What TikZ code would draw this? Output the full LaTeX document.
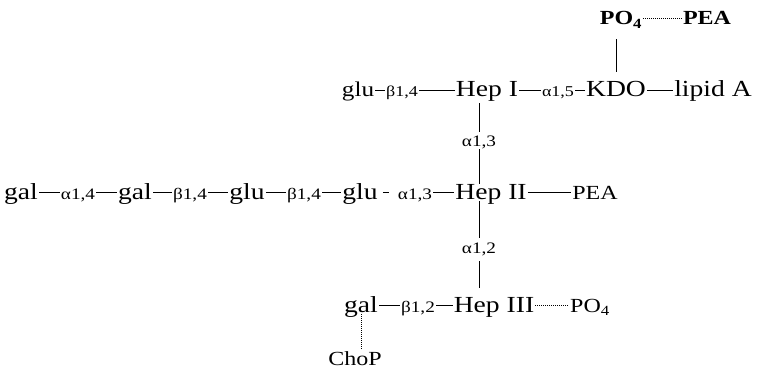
\documentclass[tikz,border=0pt]{standalone}
\usepackage{fontspec}
\setmainfont{Liberation Serif}[FakeStretch=1.2]
\usepackage{tikz}
\usetikzlibrary{calc}

\tikzset{
  sugar/.style={font=\fontsize{23}{26}\selectfont,inner sep=1pt,
                text height=14pt,text depth=1pt,anchor=base},
  bond/.style={font=\fontsize{16}{18}\selectfont,inner sep=1pt,
               text height=14pt,text depth=1pt,anchor=base},
  subst/.style={font=\fontsize{20}{22}\selectfont,inner sep=1pt,
                text height=14pt,text depth=1pt,anchor=base},
  link/.style={line width=0.8pt},
  dotlink/.style={line width=0.7pt,dash pattern=on 0.8pt off 1.2pt}
}

\begin{document}
\begin{tikzpicture}[x=1pt,y=1pt]
  \useasboundingbox (0,0) rectangle (761,373);

  % top: phosphate on KDO
  \node[subst,font=\bfseries\fontsize{20}{22}\selectfont] (po4a) at (621,348) {PO\textsubscript{4}};
  \node[subst,font=\bfseries\fontsize{20}{22}\selectfont] (pea1) at (707,348) {PEA};

  % inner core
  \node[sugar,font=\fontsize{21}{24}\selectfont] (glu1) at (358,276) {glu};
  \node[bond,font=\fontsize{15}{17}\selectfont] (b14a) at (402,276) {β1,4};
  \node[sugar] (hepI) at (487,276) {Hep I};
  \node[bond,font=\fontsize{15}{17}\selectfont] (a15) at (558,276) {α1,5};
  \node[sugar] (kdo) at (616,276) {KDO};
  \node[sugar] (lipidA) at (713,276) {lipid A};

  \node[bond] (a13) at (479,226) {α1,3};

  % lacto-N-neotetraose chain
  \node[sugar] (gal1) at (21,174) {gal};
  \node[bond] (a14) at (78,174) {α1,4};
  \node[sugar] (gal2) at (135,174) {gal};
  \node[bond] (b14b) at (190,174) {β1,4};
  \node[sugar] (glu3) at (247,174) {glu};
  \node[bond] (b14c) at (304,174) {β1,4};
  \node[sugar] (glu4) at (360,174) {glu};
  \node[bond] (a13b) at (415,174) {α1,3};
  \node[sugar] (hepII) at (491,174) {Hep II};
  \node[subst] (pea2) at (595,174) {PEA};

  \node[bond] (a12) at (479,120) {α1,2};

  \node[sugar] (galc) at (361,61) {gal};
  \node[bond] (b12) at (418,61) {β1,2};
  \node[sugar] (hepIII) at (494,61) {Hep III};
  \node[subst] (po4b) at (590,61) {PO\textsubscript{4}};

  \node[subst] (chop) at (355,8) {ChoP};

  % bonds
  \draw[link] (glu1) -- (b14a) -- (hepI) -- (a15) -- (kdo) -- (lipidA);
  \draw[link] (gal1) -- (a14) -- (gal2) -- (b14b) -- (glu3) -- (b14c) -- (glu4);
  \draw[link,shorten <=4pt,shorten >=8pt] (glu4) -- (a13b);
  \draw[link] (a13b) -- (hepII) -- (pea2);
  \draw[link] (galc) -- (b12) -- (hepIII);
  \draw[dotlink] (hepIII) -- (po4b);
  \draw[dotlink] (po4a) -- (pea1);

  \draw[link,shorten <=10pt,shorten >=12pt] (kdo.north) -- (kdo.north |- po4a.south);
  \draw[link,shorten <=4pt] (hepI.south -| a13) -- (a13.north);
  \draw[link] (a13.south) -- (a13.south |- hepII.north);
  \draw[link] (hepII.south -| a12) -- (a12.north);
  \draw[link,shorten <=6pt,shorten >=9pt] (a12.south) -- (a12.south |- hepIII.north);
  \draw[dotlink] (galc.south) -- (galc.south |- chop.north);
\end{tikzpicture}
\end{document}
